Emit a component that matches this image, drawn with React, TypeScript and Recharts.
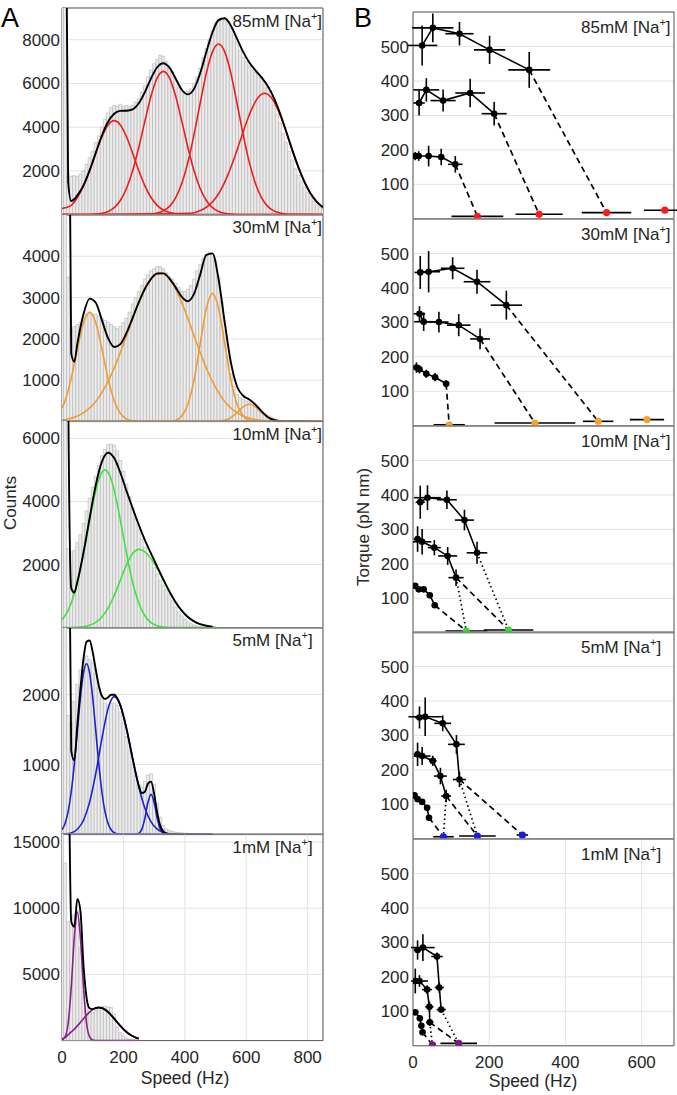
import React from 'react';
import { ComposedChart, Bar, Line, Scatter, XAxis, YAxis, CartesianGrid, ReferenceArea, ErrorBar } from 'recharts';

type Pt = [number, number];
type TP = { x: number; y: number; ex: number; ey: number };

// ---------------- Panel A : histograms (counts per 10 Hz bin, starting at 0 Hz) ----------------
const hist85 = [30000, 11000, 1900, 1750, 1780, 1750, 1850, 2000, 2300, 2600,
  2900, 3300, 3600, 4000, 4350, 4650, 4900, 5000, 4950, 5050,
  4950, 5000, 4950, 5000, 5150, 5300, 5600, 5900, 6300, 6600,
  6900, 7100, 7300, 7250, 7000, 6800, 6500, 6100, 5800, 5650,
  5600, 5650, 5750, 6000, 6300, 6700, 7200, 7600, 8000, 8400,
  8800, 8950, 9000, 8900, 8850, 8500, 8200, 7900, 7500, 7200,
  7000, 6800, 6600, 6500, 6450, 6300, 6100, 5800, 5400, 5000,
  4600, 4200, 3700, 3300, 2900, 2500, 2100, 1800, 1500, 1250,
  1000, 800, 600, 450, 330, 250];
const hist30 = [20000, 8000, 3500, 2250, 2300, 2350, 2400, 2500, 2600, 2620,
  2600, 2600, 2550, 2500, 2450, 2400, 2350, 2300, 2250, 2300,
  2400, 2500, 2650, 2850, 3000, 3150, 3300, 3450, 3550, 3650,
  3700, 3750, 3750, 3700, 3600, 3500, 3450, 3350, 3250, 3150,
  3150, 3200, 3300, 3450, 3650, 3800, 3950, 4050, 4100, 4050,
  3900, 3500, 2900, 2200, 1600, 1150, 850, 650, 580, 530,
  500, 470, 430, 380, 320, 260, 200, 150, 110, 80,
  50, 30, 15, 8];
const hist10 = [20000, 9000, 2500, 2400, 2450, 2700, 2950, 3300, 3700, 4100,
  4450, 4800, 5150, 5450, 5650, 5800, 5820, 5780, 5600, 5300,
  4950, 4550, 4150, 3800, 3450, 3100, 2800, 2550, 2300, 2100,
  1900, 1700, 1500, 1350, 1200, 1050, 850, 650, 500, 370,
  260, 180, 120, 80, 50, 30, 20, 10, 5];
const hist5 = [20000, 6000, 1700, 1600, 1900, 2150, 2350, 2500, 2550, 2500,
  2450, 2300, 2100, 1950, 1880, 1850, 1870, 1880, 1850, 1750,
  1600, 1400, 1200, 1000, 850, 720, 680, 760, 850, 870,
  720, 450, 250, 130, 80, 60, 45, 35, 30, 25,
  20, 18, 15, 12, 10];
const hist1 = [30000, 13400, 9000, 8800, 9500, 9800, 7000, 3700, 2800, 2200,
  2100, 2300, 2500, 2550, 2600, 2550, 2500, 2000, 1000, 600,
  350, 200, 120, 70, 40];

// fitted components [speed, counts]
const red1: Pt[] = [[0, 280], [30, 423], [50, 783], [70, 1316], [90, 2017], [110, 2808], [130, 3560], [150, 4102], [170, 4300], [190, 4102], [210, 3560], [230, 2808], [250, 2017], [270, 1316], [290, 783], [310, 423], [330, 208], [350, 93], [370, 38], [390, 14], [410, 5], [850, 0]];
const red2: Pt[] = [[0, 0], [90, 7], [110, 22], [130, 58], [150, 141], [170, 316], [190, 644], [210, 1192], [230, 2004], [250, 3072], [270, 4277], [290, 5423], [310, 6249], [330, 6550], [350, 6249], [370, 5423], [390, 4277], [410, 3072], [430, 2004], [450, 1192], [470, 644], [490, 316], [510, 141], [530, 58], [550, 22], [570, 7], [850, 0]];
const red3: Pt[] = [[0, 0], [270, 9], [290, 26], [310, 69], [330, 168], [350, 377], [370, 767], [390, 1420], [410, 2387], [430, 3658], [450, 5093], [470, 6458], [490, 7441], [510, 7800], [530, 7441], [550, 6458], [570, 5093], [590, 3658], [610, 2387], [630, 1420], [650, 767], [670, 377], [690, 168], [710, 69], [730, 26], [750, 9], [850, 0]];
const red4: Pt[] = [[0, 0], [420, 62], [440, 127], [460, 244], [480, 442], [500, 749], [520, 1199], [540, 1804], [560, 2542], [580, 3369], [600, 4190], [620, 4895], [640, 5378], [660, 5550], [680, 5378], [700, 4895], [720, 4190], [740, 3369], [760, 2542], [780, 1804], [800, 1199], [820, 749], [840, 442], [850, 331]];
const fit85: Pt[] = [[0, 60000], [10, 20000], [20, 1500], [30, 620], [40, 700], [50, 880], [70, 1340], [90, 2024], [110, 2830], [130, 3618], [150, 4243], [170, 4616], [190, 4746], [210, 4752], [230, 4812], [250, 5092], [270, 5602], [290, 6232], [310, 6741], [330, 6926], [350, 6719], [370, 6228], [390, 5711], [410, 5501], [430, 5751], [450, 6462], [470, 7433], [490, 8338], [510, 8896], [530, 8981], [550, 8639], [570, 8047], [590, 7443], [610, 6955], [630, 6593], [650, 6273], [670, 5883], [690, 5341], [710, 4637], [730, 3811], [750, 2956], [770, 2159], [790, 1482], [810, 955], [830, 581], [850, 331]];

const orange1: Pt[] = [[0, 327], [10, 507], [30, 1047], [50, 1754], [70, 2390], [90, 2650], [110, 2390], [130, 1754], [150, 1047], [170, 507], [190, 200], [210, 64], [230, 17], [250, 3], [850, 0]];
const orange2: Pt[] = [[0, 35], [20, 61], [40, 103], [60, 168], [80, 264], [100, 400], [120, 587], [140, 828], [160, 1127], [180, 1480], [200, 1872], [220, 2286], [240, 2693], [260, 3056], [280, 3348], [300, 3535], [320, 3600], [340, 3535], [360, 3348], [380, 3056], [400, 2693], [420, 2286], [440, 1872], [460, 1480], [480, 1127], [500, 828], [520, 587], [540, 400], [560, 264], [580, 168], [600, 103], [620, 61], [640, 35], [660, 19], [680, 10], [700, 4], [850, 0]];
const orange3: Pt[] = [[0, 0], [330, 2], [350, 7], [370, 34], [390, 136], [410, 419], [430, 1008], [450, 1882], [470, 2734], [490, 3100], [510, 2734], [530, 1882], [550, 1008], [570, 419], [590, 136], [610, 34], [630, 7], [650, 2], [850, 0]];
const orange4: Pt[] = [[0, 0], [490, 2], [510, 7], [530, 31], [550, 97], [570, 218], [590, 357], [610, 420], [630, 357], [650, 218], [670, 97], [690, 31], [710, 7], [730, 2], [850, 0]];
const fit30: Pt[] = [[0, 60000], [10, 30000], [20, 12000], [30, 1650], [40, 1450], [50, 1886], [70, 2602], [90, 2977], [110, 2876], [130, 2455], [150, 2018], [170, 1805], [190, 1874], [210, 2145], [230, 2512], [250, 2887], [270, 3215], [290, 3456], [310, 3584], [330, 3588], [350, 3463], [370, 3249], [390, 3020], [410, 2914], [430, 3089], [450, 3556], [470, 4032], [490, 4071], [510, 3442], [530, 2399], [550, 1432], [570, 849], [590, 625], [610, 533], [630, 410], [650, 248], [670, 111], [690, 39], [710, 9], [730, 2], [850, 0]];

const green1: Pt[] = [[0, 245], [20, 545], [40, 1073], [60, 1865], [80, 2875], [100, 3910], [120, 4700], [140, 5000], [160, 4700], [180, 3910], [200, 2875], [220, 1865], [240, 1073], [260, 545], [280, 245], [300, 97], [320, 34], [340, 10], [360, 3], [500, 0]];
const green2: Pt[] = [[0, 0], [50, 10], [70, 28], [90, 71], [110, 163], [130, 335], [150, 618], [170, 1019], [190, 1505], [210, 1986], [230, 2346], [250, 2480], [270, 2403], [290, 2187], [310, 1872], [330, 1505], [350, 1136], [370, 806], [390, 536], [410, 335], [430, 197], [450, 109], [470, 57], [490, 27], [500, 18]];
const fit10: Pt[] = [[0, 60000], [10, 30000], [20, 8000], [30, 1250], [40, 1110], [50, 1448], [70, 2378], [90, 3476], [110, 4518], [130, 5260], [150, 5543], [170, 5374], [190, 4910], [210, 4336], [230, 3784], [250, 3257], [270, 2774], [290, 2344], [310, 1931], [330, 1525], [350, 1141], [370, 806], [390, 536], [410, 335], [430, 197], [450, 109], [470, 57], [490, 27]];

const blue1: Pt[] = [[0, 70], [10, 160], [20, 329], [30, 608], [40, 1003], [50, 1481], [60, 1954], [70, 2308], [80, 2440], [90, 2308], [100, 1954], [110, 1481], [120, 1003], [130, 608], [140, 329], [150, 160], [160, 70], [170, 27], [180, 10], [190, 3], [490, 0]];
const blue2: Pt[] = [[0, 3], [10, 6], [30, 23], [50, 76], [70, 205], [90, 463], [110, 873], [130, 1371], [150, 1799], [170, 1970], [190, 1844], [210, 1513], [230, 1087], [250, 684], [270, 377], [290, 182], [310, 77], [330, 29], [350, 9], [370, 2], [490, 0]];
const blue3: Pt[] = [[0, 0], [230, 0], [240, 2], [250, 16], [260, 78], [270, 236], [280, 461], [290, 575], [300, 461], [310, 236], [320, 78], [330, 16], [340, 2], [350, 0], [490, 0]];
const fit5: Pt[] = [[0, 60000], [10, 30000], [20, 6000], [30, 1200], [40, 1060], [50, 1570], [60, 2081], [70, 2513], [80, 2755], [90, 2771], [100, 2604], [110, 2354], [120, 2122], [130, 1979], [140, 1937], [150, 1959], [160, 1997], [170, 1997], [180, 1948], [190, 1848], [200, 1698], [210, 1513], [220, 1304], [230, 1087], [240, 879], [250, 700], [260, 594], [270, 613], [280, 727], [290, 757], [300, 582], [310, 313], [320, 126], [330, 45], [340, 19], [350, 9], [370, 2], [490, 0]];

const purple1: Pt[] = [[0, 38], [10, 277], [20, 1310], [30, 3987], [40, 7770], [50, 9700], [60, 7770], [70, 3987], [80, 1310], [90, 277], [100, 38], [110, 3], [250, 0]];
const purple2: Pt[] = [[0, 130], [10, 220], [20, 450], [30, 655], [40, 868], [50, 1113], [60, 1380], [70, 1655], [80, 1920], [90, 2155], [100, 2340], [110, 2460], [120, 2500], [130, 2460], [140, 2340], [150, 2155], [160, 1920], [170, 1655], [180, 1380], [190, 1113], [200, 868], [210, 655], [220, 479], [230, 338], [240, 231], [250, 153]];
const fit1: Pt[] = [[0, 80000], [10, 40000], [20, 25000], [30, 9000], [40, 8600], [50, 10700], [60, 9800], [70, 5700], [80, 3250], [90, 2430], [100, 2380], [110, 2460], [120, 2500], [130, 2460], [140, 2340], [150, 2155], [160, 1920], [170, 1655], [180, 1380], [190, 1113], [200, 868], [210, 655], [220, 479], [230, 338], [240, 231], [250, 153]];

const ticks85 = [2000, 4000, 6000, 8000];
const ticks30 = [1000, 2000, 3000, 4000];
const ticks10 = [2000, 4000, 6000];
const ticks5 = [1000, 2000];
const ticks1 = [5000, 10000, 15000];
const speedTicksA = [0, 200, 400, 600, 800];

// ---------------- Panel B : torque vs speed ----------------
const t85A: TP[] = [{ x: 24, y: 503, ex: 40, ey: 58 }, { x: 52, y: 554, ex: 54, ey: 42 }, { x: 122, y: 537, ex: 37, ey: 34 }, { x: 201, y: 490, ex: 41, ey: 41 }, { x: 305, y: 432, ex: 55, ey: 52 }];
const t85B: TP[] = [{ x: 16, y: 336, ex: 15, ey: 36 }, { x: 35, y: 374, ex: 34, ey: 34 }, { x: 79, y: 343, ex: 33, ey: 32 }, { x: 150, y: 365, ex: 39, ey: 41 }, { x: 213, y: 305, ex: 33, ey: 34 }];
const t85C: TP[] = [{ x: 6, y: 182, ex: 4, ey: 12 }, { x: 15, y: 182, ex: 6, ey: 14 }, { x: 41, y: 182, ex: 8, ey: 30 }, { x: 74, y: 179, ex: 8, ey: 24 }, { x: 111, y: 158, ex: 19, ey: 24 }];
const t85Z: TP[] = [{ x: 169, y: 7, ex: 68, ey: 0 }, { x: 331, y: 13, ex: 62, ey: 0 }, { x: 508, y: 18, ex: 65, ey: 0 }, { x: 661, y: 25, ex: 55, ey: 0 }];

const t30A: TP[] = [{ x: 19, y: 445, ex: 15, ey: 48 }, { x: 41, y: 447, ex: 30, ey: 60 }, { x: 104, y: 457, ex: 31, ey: 32 }, { x: 168, y: 418, ex: 35, ey: 35 }, { x: 245, y: 350, ex: 41, ey: 42 }];
const t30B: TP[] = [{ x: 17, y: 325, ex: 15, ey: 22 }, { x: 28, y: 302, ex: 25, ey: 27 }, { x: 68, y: 301, ex: 25, ey: 30 }, { x: 120, y: 292, ex: 31, ey: 32 }, { x: 176, y: 252, ex: 26, ey: 30 }];
const t30C: TP[] = [{ x: 9, y: 169, ex: 5, ey: 15 }, { x: 17, y: 164, ex: 6, ey: 12 }, { x: 35, y: 151, ex: 6, ey: 12 }, { x: 58, y: 141, ex: 6, ey: 12 }, { x: 87, y: 122, ex: 8, ey: 10 }];
const t30Z: TP[] = [{ x: 95, y: 3, ex: 41, ey: 0 }, { x: 320, y: 8, ex: 106, ey: 0 }, { x: 486, y: 13, ex: 40, ey: 0 }, { x: 614, y: 18, ex: 45, ey: 0 }];

const t10A: TP[] = [{ x: 19, y: 379, ex: 12, ey: 48 }, { x: 38, y: 392, ex: 35, ey: 36 }, { x: 89, y: 386, ex: 26, ey: 27 }, { x: 135, y: 327, ex: 25, ey: 30 }, { x: 168, y: 232, ex: 27, ey: 32 }];
const t10B: TP[] = [{ x: 12, y: 272, ex: 10, ey: 37 }, { x: 24, y: 264, ex: 24, ey: 37 }, { x: 56, y: 247, ex: 17, ey: 22 }, { x: 91, y: 223, ex: 25, ey: 26 }, { x: 113, y: 160, ex: 20, ey: 24 }];
const t10C: TP[] = [{ x: 6, y: 136, ex: 4, ey: 8 }, { x: 15, y: 126, ex: 5, ey: 8 }, { x: 28, y: 126, ex: 5, ey: 8 }, { x: 44, y: 109, ex: 6, ey: 8 }, { x: 57, y: 80, ex: 6, ey: 8 }];
const t10Z: TP[] = [{ x: 140, y: 5, ex: 55, ey: 0 }, { x: 251, y: 8, ex: 65, ey: 0 }];

const t5A: TP[] = [{ x: 17, y: 352, ex: 12, ey: 32 }, { x: 32, y: 354, ex: 44, ey: 56 }, { x: 78, y: 335, ex: 22, ey: 23 }, { x: 114, y: 274, ex: 22, ey: 27 }, { x: 122, y: 172, ex: 17, ey: 22 }];
const t5B: TP[] = [{ x: 12, y: 245, ex: 10, ey: 34 }, { x: 24, y: 240, ex: 22, ey: 26 }, { x: 52, y: 226, ex: 10, ey: 15 }, { x: 72, y: 182, ex: 17, ey: 24 }, { x: 87, y: 124, ex: 13, ey: 18 }];
const t5C: TP[] = [{ x: 4, y: 126, ex: 3, ey: 10 }, { x: 12, y: 115, ex: 4, ey: 8 }, { x: 24, y: 107, ex: 4, ey: 8 }, { x: 37, y: 90, ex: 5, ey: 8 }, { x: 42, y: 61, ex: 5, ey: 8 }];
const t5Z: TP[] = [{ x: 80, y: 6, ex: 27, ey: 0 }, { x: 169, y: 8, ex: 48, ey: 0 }, { x: 287, y: 11, ex: 15, ey: 0 }];

const t1A: TP[] = [{ x: 12, y: 278, ex: 10, ey: 28 }, { x: 26, y: 285, ex: 31, ey: 39 }, { x: 63, y: 259, ex: 15, ey: 12 }, { x: 69, y: 169, ex: 12, ey: 15 }, { x: 74, y: 105, ex: 12, ey: 8 }];
const t1B: TP[] = [{ x: 6, y: 188, ex: 5, ey: 36 }, { x: 17, y: 188, ex: 22, ey: 17 }, { x: 37, y: 163, ex: 13, ey: 13 }, { x: 43, y: 113, ex: 11, ey: 15 }, { x: 44, y: 68, ex: 10, ey: 10 }];
const t1C: TP[] = [{ x: 6, y: 97, ex: 4, ey: 6 }, { x: 18, y: 80, ex: 4, ey: 6 }, { x: 22, y: 58, ex: 3, ey: 6 }, { x: 25, y: 39, ex: 3, ey: 6 }];
const t1Z: TP[] = [{ x: 51, y: 3, ex: 0, ey: 0 }, { x: 120, y: 7, ex: 48, ey: 0 }];

const torqueTicks = [100, 200, 300, 400, 500];
const speedTicksB = [0, 200, 400, 600];

// ---------------- styling / layout ----------------
const FONT = '"Liberation Sans", Arial, Helvetica, sans-serif';
const TXT = '#262626';
const AXIS = '#5a5a5a';
const GRID = '#e4e4e4';
const LEFT_TOPS = [8, 214.6, 421.2, 627.8, 834.4];
const LEFT_H = 206.6;
const RIGHT_TOPS = [12, 218.8, 425.6, 632.4, 839.2];
const RIGHT_H = 206.8;

const leftPanels = [
  { label: '85mM', hist: hist85, yMax: 9450, ticks: ticks85, color: '#ee1c1c', comps: [red1, red2, red3, red4], fit: fit85 },
  { label: '30mM', hist: hist30, yMax: 5000, ticks: ticks30, color: '#f39a2e', comps: [orange1, orange2, orange3, orange4], fit: fit30 },
  { label: '10mM', hist: hist10, yMax: 6550, ticks: ticks10, color: '#3ee43e', comps: [green1, green2], fit: fit10 },
  { label: '5mM', hist: hist5, yMax: 2950, ticks: ticks5, color: '#1f1fd0', comps: [blue1, blue2, blue3], fit: fit5 },
  { label: '1mM', hist: hist1, yMax: 15600, ticks: ticks1, color: '#8a1f8a', comps: [purple1, purple2], fit: fit1 },
];

type Link = [number, number, 'dash' | 'dot'];
const rightPanels: { label: string; color: string; series: TP[][]; zeros: TP[]; links: Link[] }[] = [
  { label: '85mM', color: '#ff1a1a', series: [t85A, t85B, t85C], zeros: t85Z, links: [[2, 0, 'dash'], [1, 1, 'dash'], [0, 2, 'dash']] },
  { label: '30mM', color: '#f7a030', series: [t30A, t30B, t30C], zeros: t30Z, links: [[2, 0, 'dash'], [1, 1, 'dash'], [0, 2, 'dash']] },
  { label: '10mM', color: '#2fdc2f', series: [t10A, t10B, t10C], zeros: t10Z, links: [[2, 0, 'dash'], [1, 0, 'dot'], [1, 1, 'dash'], [0, 1, 'dot']] },
  { label: '5mM', color: '#1a1ae0', series: [t5A, t5B, t5C], zeros: t5Z, links: [[2, 0, 'dash'], [1, 0, 'dot'], [1, 1, 'dash'], [0, 1, 'dot'], [0, 2, 'dash']] },
  { label: '1mM', color: '#7a1a7a', series: [t1A, t1B, t1C], zeros: t1Z, links: [[2, 0, 'dash'], [1, 0, 'dot'], [1, 1, 'dash'], [0, 1, 'dot']] },
];

function buildRows(hist: number[], comps: Pt[][], fit: Pt[]) {
  const rows: any[] = [];
  for (let i = 0; i <= 85; i++) rows.push({ x: i * 10, h: i < hist.length ? hist[i] : null });
  comps.forEach((pts, k) => pts.forEach(([x, y]) => { rows[Math.round(x / 10)]['c' + k] = y; }));
  fit.forEach(([x, y]) => { rows[Math.round(x / 10)].fit = y; });
  return rows;
}

const tickStyle = { fontSize: 17, fill: TXT, fontFamily: FONT };

function HistPanel({ p, top, bottom }: { p: any; top: number; bottom: boolean }) {
  const rows = buildRows(p.hist, p.comps, p.fit);
  const axH = bottom ? 40 : 0;
  return (
    <div style={{ position: 'absolute', left: 0, top: top - 10 }}>
      <ComposedChart width={340} height={LEFT_H + 20 + axH} data={rows} margin={{ top: 10, right: 17, bottom: 10, left: 0 }} barCategoryGap={0} barGap={0}>
        <CartesianGrid stroke={GRID} strokeWidth={1} />
        <XAxis dataKey="x" type="number" domain={[0, 850]} ticks={speedTicksA} interval={0} allowDataOverflow height={axH}
          tick={bottom ? tickStyle : false} tickLine={false} axisLine={false} tickSize={0} tickMargin={10} />
        <YAxis type="number" domain={[0, p.yMax]} ticks={p.ticks} interval={0} allowDataOverflow width={62}
          tick={tickStyle} tickLine={false} axisLine={false} tickSize={0} tickMargin={2} />
        <Bar dataKey="h" fill="#ececec" stroke="#ababab" strokeWidth={0.5} isAnimationActive={false} />
        {p.comps.map((_: any, k: number) => (
          <Line key={k} dataKey={'c' + k} type="monotone" stroke={p.color} strokeWidth={1.6} dot={false} activeDot={false} connectNulls isAnimationActive={false} />
        ))}
        <Line dataKey="fit" type="monotone" stroke="#000" strokeWidth={1.9} dot={false} activeDot={false} connectNulls isAnimationActive={false} />
        <ReferenceArea x1={0} x2={850} y1={0} y2={p.yMax} fill="none" stroke={AXIS} strokeWidth={1} />
      </ComposedChart>
    </div>
  );
}

const BlackDot = (props: any) => <circle cx={props.cx} cy={props.cy} r={3.3} fill="#000" />;
const NoDot = () => <g />;

function TorquePanel({ p, top, bottom }: { p: (typeof rightPanels)[number]; top: number; bottom: boolean }) {
  const axH = bottom ? 40 : 0;
  const ColorDot = (props: any) => <circle cx={props.cx} cy={props.cy} r={3.6} fill={p.color} />;
  return (
    <div style={{ position: 'absolute', left: 340, top: top - 10 }}>
      <ComposedChart width={337} height={RIGHT_H + 20 + axH} margin={{ top: 10, right: 3, bottom: 10, left: 0 }}>
        <CartesianGrid stroke={GRID} strokeWidth={1} />
        <XAxis dataKey="x" type="number" domain={[0, 685]} ticks={speedTicksB} interval={0} allowDataOverflow height={axH}
          tick={bottom ? tickStyle : false} tickLine={false} axisLine={false} tickSize={0} tickMargin={10} />
        <YAxis dataKey="y" type="number" domain={[0, 600]} ticks={torqueTicks} interval={0} allowDataOverflow width={73}
          tick={tickStyle} tickLine={false} axisLine={false} tickSize={0} tickMargin={4} />
        {p.links.map(([s, z, st], i) => {
          const ser = p.series[s];
          const from = ser[ser.length - 1];
          const to = p.zeros[z];
          return (
            <Scatter key={'l' + i} data={[{ x: from.x, y: from.y }, { x: to.x, y: to.y }]} shape={NoDot}
              line={{ stroke: '#000', strokeWidth: 1.7, strokeDasharray: st === 'dash' ? '6 4' : '1.5 3' }} isAnimationActive={false} />
          );
        })}
        {p.series.map((ser, i) => (
          <Scatter key={'s' + i} data={ser} shape={BlackDot} line={{ stroke: '#000', strokeWidth: 1.6 }} isAnimationActive={false}>
            <ErrorBar dataKey="ex" direction="x" width={0} stroke="#000" strokeWidth={1.6} />
            <ErrorBar dataKey="ey" direction="y" width={0} stroke="#000" strokeWidth={1.6} />
          </Scatter>
        ))}
        <Scatter data={p.zeros} shape={ColorDot} isAnimationActive={false}>
          <ErrorBar dataKey="ex" direction="x" width={0} stroke="#000" strokeWidth={1.6} />
        </Scatter>
        <ReferenceArea x1={0} x2={685} y1={0} y2={600} fill="none" stroke={AXIS} strokeWidth={1} />
      </ComposedChart>
    </div>
  );
}

function NaLabel({ x, y, text }: { x: number; y: number; text: string }) {
  return (
    <text x={x} y={y} fontSize={17} fill={TXT} fontFamily={FONT}>
      {text} [Na<tspan fontSize={11} dy={-7}>+</tspan><tspan dy={7}>]</tspan>
    </text>
  );
}

export default function App() {
  return (
    <div style={{ position: 'absolute', left: 0, top: 0, width: 677, height: 1095, background: '#fff', overflow: 'hidden' }}>
      {leftPanels.map((p, i) => <HistPanel key={'h' + i} p={p} top={LEFT_TOPS[i]} bottom={i === 4} />)}
      {rightPanels.map((p, i) => <TorquePanel key={'t' + i} p={p} top={RIGHT_TOPS[i]} bottom={i === 4} />)}
      <svg width={677} height={1095} style={{ position: 'absolute', left: 0, top: 0, pointerEvents: 'none' }}>
        <text x={1} y={27} fontSize={27} fill="#000" fontFamily={FONT}>A</text>
        <text x={354} y={27} fontSize={27} fill="#000" fontFamily={FONT}>B</text>
        <text transform="translate(15.5,503) rotate(-90)" textAnchor="middle" fontSize={17} fill={TXT} fontFamily={FONT}>Counts</text>
        <text transform="translate(369,527) rotate(-90)" textAnchor="middle" fontSize={17} fill={TXT} fontFamily={FONT}>Torque (pN nm)</text>
        <text x={185} y={1084} textAnchor="middle" fontSize={17.5} fill={TXT} fontFamily={FONT}>Speed (Hz)</text>
        <text x={533} y={1087} textAnchor="middle" fontSize={17.5} fill={TXT} fontFamily={FONT}>Speed (Hz)</text>
        {leftPanels.map((p, i) => <NaLabel key={'la' + i} x={232.5} y={LEFT_TOPS[i] + 18.5} text={p.label} />)}
        {rightPanels.map((p, i) => <NaLabel key={'lb' + i} x={581} y={RIGHT_TOPS[i] + 21} text={p.label} />)}
      </svg>
    </div>
  );
}
